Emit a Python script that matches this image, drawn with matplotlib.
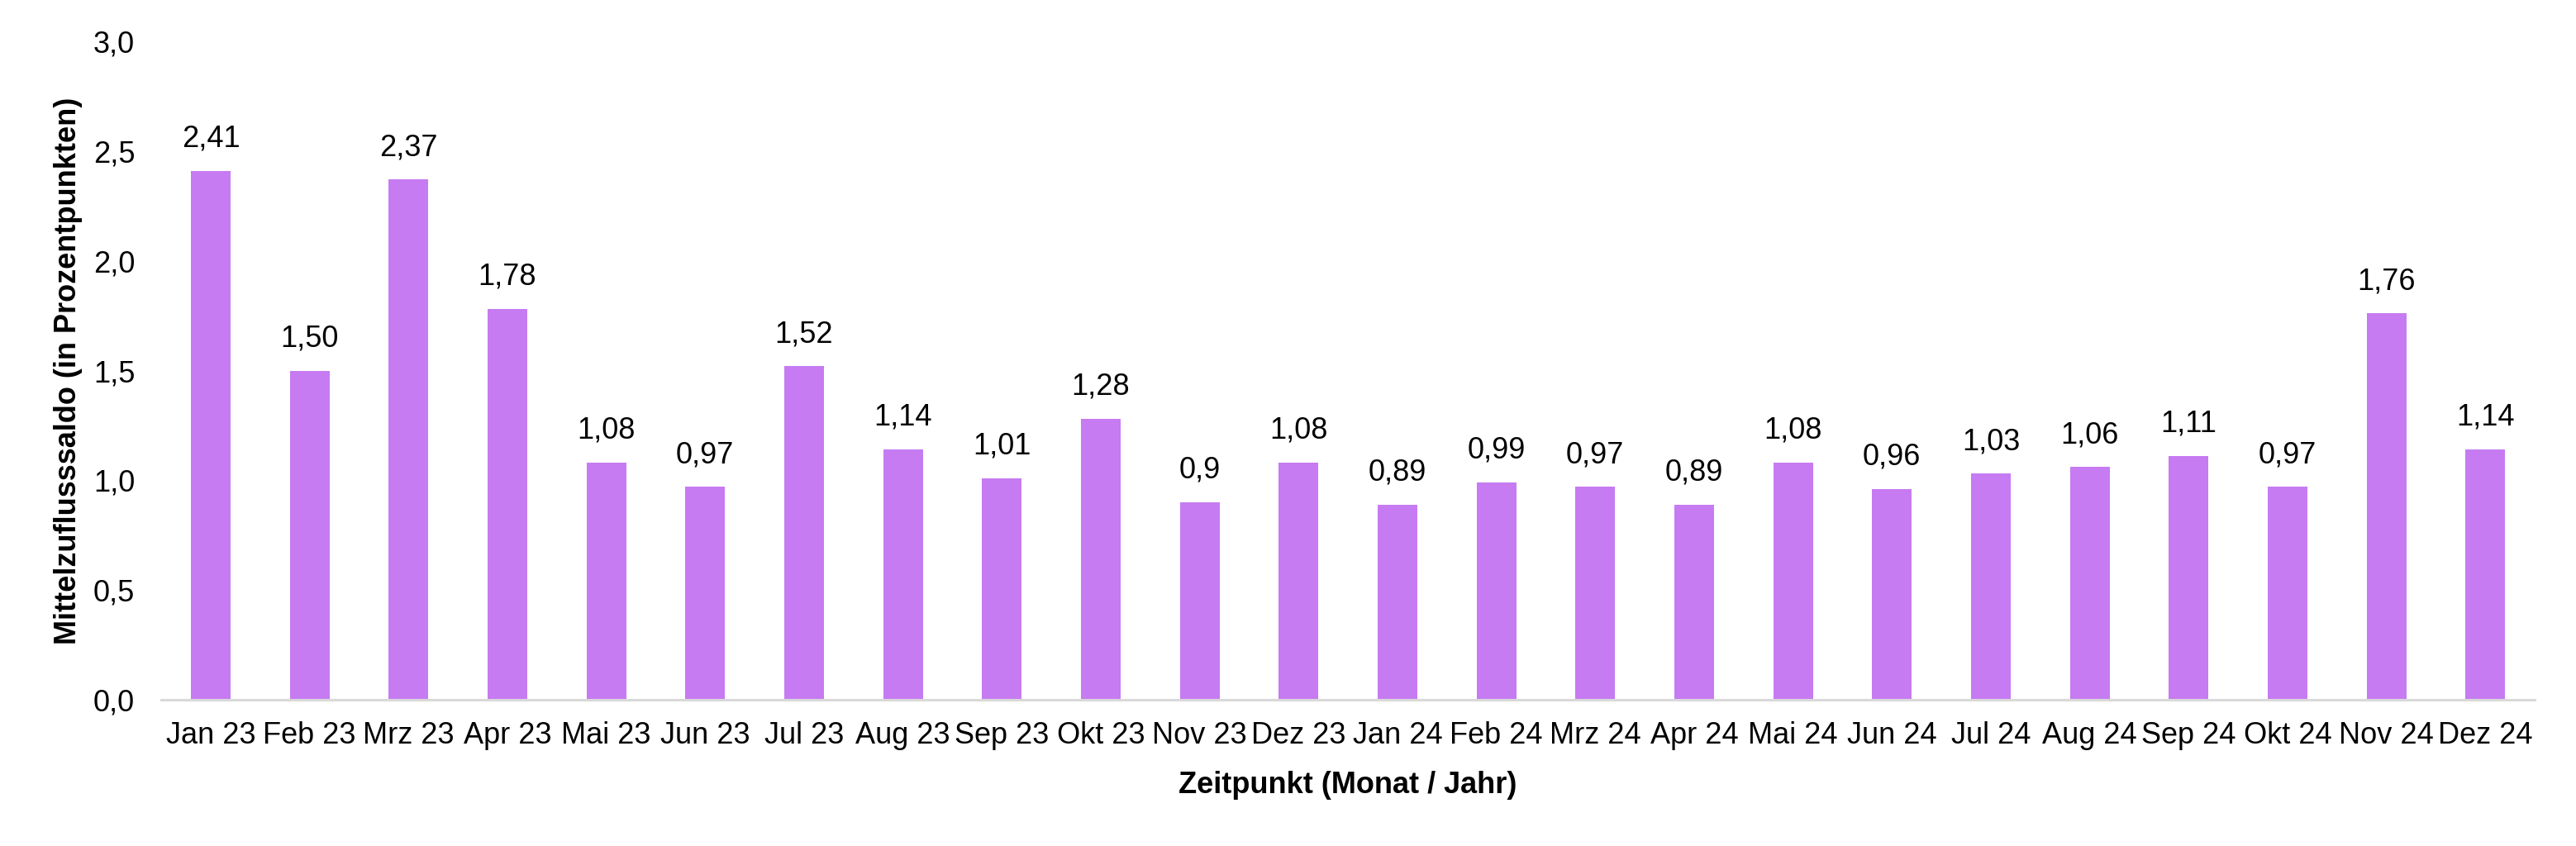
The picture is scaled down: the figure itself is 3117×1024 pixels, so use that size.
import numpy as np
import matplotlib.pyplot as plt

# Mittelzuflusssaldo pro Monat
months = ['Jan 23', 'Feb 23', 'Mrz 23', 'Apr 23', 'Mai 23', 'Jun 23', 'Jul 23', 'Aug 23',
          'Sep 23', 'Okt 23', 'Nov 23', 'Dez 23', 'Jan 24', 'Feb 24', 'Mrz 24', 'Apr 24',
          'Mai 24', 'Jun 24', 'Jul 24', 'Aug 24', 'Sep 24', 'Okt 24', 'Nov 24', 'Dez 24']
values = [2.41, 1.50, 2.37, 1.78, 1.08, 0.97, 1.52, 1.14, 1.01, 1.28, 0.9, 1.08,
          0.89, 0.99, 0.97, 0.89, 1.08, 0.96, 1.03, 1.06, 1.11, 0.97, 1.76, 1.14]
value_labels = ['2,41', '1,50', '2,37', '1,78', '1,08', '0,97', '1,52', '1,14', '1,01', '1,28',
                '0,9', '1,08', '0,89', '0,99', '0,97', '0,89', '1,08', '0,96', '1,03', '1,06',
                '1,11', '0,97', '1,76', '1,14']
y_ticks = [0.0, 0.5, 1.0, 1.5, 2.0, 2.5, 3.0]
y_tick_labels = ['0,0', '0,5', '1,0', '1,5', '2,0', '2,5', '3,0']

plt.rcParams['font.family'] = ['Liberation Sans', 'DejaVu Sans']

fig = plt.figure(figsize=(31.17, 10.24), dpi=100)
ax = fig.add_axes([0.0626, 0.173, 0.9214, 0.778])

x = np.arange(len(months))
bars = ax.bar(x, values, width=0.4, color='#C67BF2')

# labels above bars
for xi, v, lab in zip(x, values, value_labels):
    ax.annotate(lab, (xi, v), xytext=(0, 21), textcoords='offset points',
                ha='center', va='baseline', fontsize=26)

ax.set_xlim(-0.5, len(months) - 0.5)
ax.set_ylim(0, 3.0)
ax.set_xticks(x)
ax.set_xticklabels(months, fontsize=26)
ax.set_yticks(y_ticks)
ax.set_yticklabels(y_tick_labels, fontsize=26)
ax.tick_params(axis='x', length=0, pad=19)
ax.tick_params(axis='y', length=0, pad=23)

for s in ['top', 'right', 'left']:
    ax.spines[s].set_visible(False)
ax.spines['bottom'].set_color('#D9D9D9')
ax.spines['bottom'].set_linewidth(2.2)

ax.set_xlabel('Zeitpunkt (Monat / Jahr)', fontsize=26, fontweight='bold')
ax.set_ylabel('Mittelzuflusssaldo (in Prozentpunkten)', fontsize=26, fontweight='bold')
ax.xaxis.set_label_coords(0.5, -0.108)
ax.yaxis.set_label_coords(-0.033, 0.5)

fig.savefig('out.png', dpi=100)
